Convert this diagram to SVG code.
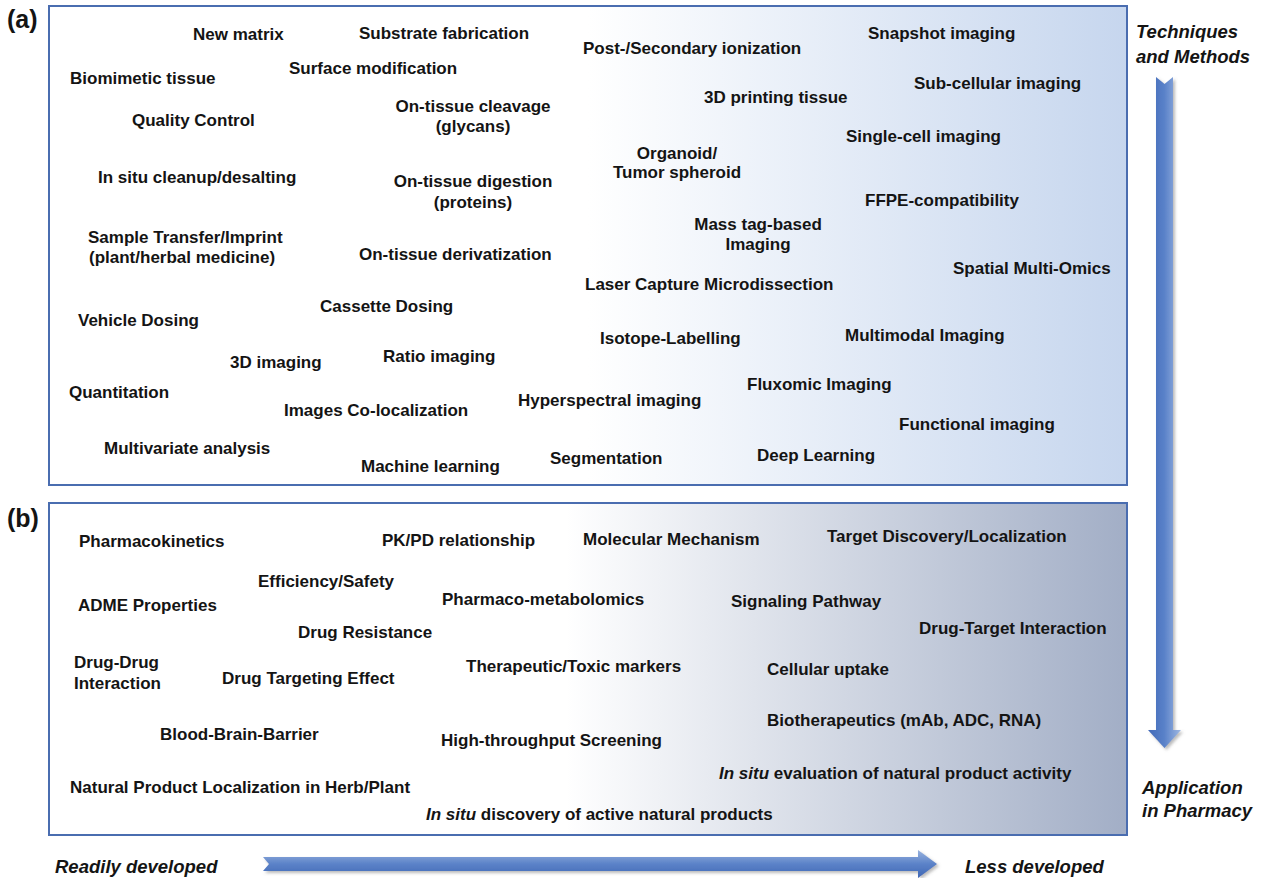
<svg xmlns="http://www.w3.org/2000/svg" width="1263" height="878" viewBox="0 0 1263 878">
  <style>
    .lbl { font-family: "Liberation Sans", Arial, sans-serif; font-weight: bold; font-size: 17px; fill: #141414; }
    .mid { text-anchor: middle; }
    .axis { font-family: "Liberation Sans", Arial, sans-serif; font-weight: bold; font-style: italic; font-size: 18.5px; fill: #141414; }
    .tag { font-family: "Liberation Sans", Arial, sans-serif; font-weight: bold; font-size: 25px; fill: #141414; }
    .panel { stroke: #4a6db0; stroke-width: 2; }
    .it { font-style: italic; }
  </style>
  <defs>
    <linearGradient id="gradA" x1="0" y1="0" x2="1" y2="0">
      <stop offset="0" stop-color="#ffffff"/>
      <stop offset="0.5" stop-color="#ffffff"/>
      <stop offset="1" stop-color="#c6d6ee"/>
    </linearGradient>
    <linearGradient id="gradB" x1="0" y1="0" x2="1" y2="0">
      <stop offset="0" stop-color="#ffffff"/>
      <stop offset="0.48" stop-color="#ffffff"/>
      <stop offset="1" stop-color="#a2aec6"/>
    </linearGradient>
    <linearGradient id="arrowV" x1="0" y1="0" x2="1" y2="0">
      <stop offset="0" stop-color="#4169b8"/>
      <stop offset="0.5" stop-color="#5a82c9"/>
      <stop offset="1" stop-color="#9fb8e2"/>
    </linearGradient>
    <linearGradient id="arrowH" x1="0" y1="0" x2="0" y2="1">
      <stop offset="0" stop-color="#9ab3df"/>
      <stop offset="0.5" stop-color="#5b82c8"/>
      <stop offset="1" stop-color="#3f67b5"/>
    </linearGradient>
    <filter id="shadow" x="-10%" y="-10%" width="130%" height="130%">
      <feDropShadow dx="2" dy="2" stdDeviation="1.5" flood-color="#777" flood-opacity="0.5"/>
    </filter>
  </defs>

  <!-- panels -->
  <rect id="panel-a" class="panel" x="49" y="6" width="1078" height="479" fill="url(#gradA)"/>
  <rect id="panel-b" class="panel" x="49" y="503" width="1078" height="332" fill="url(#gradB)"/>
  <text class="tag" x="7" y="28">(a)</text>
  <text class="tag" x="7" y="527">(b)</text>

  <!-- direction arrows -->
  <g id="connectors">
    <polygon filter="url(#shadow)" fill="url(#arrowV)" points="1156,77 1164.5,84 1173,77 1173,730 1181,730 1164.5,748 1148,730 1156,730"/>
    <polygon filter="url(#shadow)" fill="url(#arrowH)" points="263,857 918,857 918,850 937,864 918,878 918,871 263,871 269,864"/>
  </g>

  <!-- axis labels -->
  <g id="axis-top"><text class="axis" x="1136" y="38">Techniques</text><text class="axis" x="1136" y="63">and Methods</text></g>
  <g id="axis-bottom"><text class="axis" x="1142" y="794">Application</text><text class="axis" x="1142" y="817">in Pharmacy</text></g>
  <g id="axis-left"><text class="axis" x="55" y="873">Readily developed</text></g>
  <g id="axis-right"><text class="axis" x="965" y="873">Less developed</text></g>

  <!-- (a) techniques and methods -->
  <g id="a-new-matrix"><text class="lbl" x="193" y="40">New matrix</text></g>
  <g id="a-substrate"><text class="lbl" x="359" y="39">Substrate fabrication</text></g>
  <g id="a-post-ionization"><text class="lbl" x="583" y="54">Post-/Secondary ionization</text></g>
  <g id="a-snapshot"><text class="lbl" x="868" y="39">Snapshot imaging</text></g>
  <g id="a-biomimetic"><text class="lbl" x="70" y="84">Biomimetic tissue</text></g>
  <g id="a-surface"><text class="lbl" x="289" y="74">Surface modification</text></g>
  <g id="a-subcellular"><text class="lbl" x="914" y="89">Sub-cellular imaging</text></g>
  <g id="a-3d-printing"><text class="lbl" x="704" y="103">3D printing tissue</text></g>
  <g id="a-cleavage"><text class="lbl mid" x="473" y="112">On-tissue cleavage</text><text class="lbl mid" x="473" y="132">(glycans)</text></g>
  <g id="a-quality"><text class="lbl" x="132" y="126">Quality Control</text></g>
  <g id="a-single-cell"><text class="lbl" x="846" y="142">Single-cell imaging</text></g>
  <g id="a-organoid"><text class="lbl mid" x="677" y="159">Organoid/</text><text class="lbl mid" x="677" y="178">Tumor spheroid</text></g>
  <g id="a-cleanup"><text class="lbl" x="98" y="183">In situ cleanup/desalting</text></g>
  <g id="a-digestion"><text class="lbl mid" x="473" y="187">On-tissue digestion</text><text class="lbl mid" x="473" y="208">(proteins)</text></g>
  <g id="a-ffpe"><text class="lbl" x="865" y="206">FFPE-compatibility</text></g>
  <g id="a-mass-tag"><text class="lbl mid" x="758" y="230">Mass tag-based</text><text class="lbl mid" x="758" y="250">Imaging</text></g>
  <g id="a-transfer"><text class="lbl" x="88" y="243">Sample Transfer/Imprint</text><text class="lbl" x="89" y="263">(plant/herbal medicine)</text></g>
  <g id="a-derivatization"><text class="lbl" x="359" y="260">On-tissue derivatization</text></g>
  <g id="a-multi-omics"><text class="lbl" x="953" y="274">Spatial Multi-Omics</text></g>
  <g id="a-lcm"><text class="lbl" x="585" y="290">Laser Capture Microdissection</text></g>
  <g id="a-cassette"><text class="lbl" x="320" y="312">Cassette Dosing</text></g>
  <g id="a-vehicle"><text class="lbl" x="78" y="326">Vehicle Dosing</text></g>
  <g id="a-isotope"><text class="lbl" x="600" y="344">Isotope-Labelling</text></g>
  <g id="a-multimodal"><text class="lbl" x="845" y="341">Multimodal Imaging</text></g>
  <g id="a-3d-imaging"><text class="lbl" x="230" y="368">3D imaging</text></g>
  <g id="a-ratio"><text class="lbl" x="383" y="362">Ratio imaging</text></g>
  <g id="a-quantitation"><text class="lbl" x="69" y="398">Quantitation</text></g>
  <g id="a-fluxomic"><text class="lbl" x="747" y="390">Fluxomic Imaging</text></g>
  <g id="a-colocalization"><text class="lbl" x="284" y="416">Images Co-localization</text></g>
  <g id="a-hyperspectral"><text class="lbl" x="518" y="406">Hyperspectral imaging</text></g>
  <g id="a-functional"><text class="lbl" x="899" y="430">Functional imaging</text></g>
  <g id="a-multivariate"><text class="lbl" x="104" y="454">Multivariate analysis</text></g>
  <g id="a-machine-learning"><text class="lbl" x="361" y="472">Machine learning</text></g>
  <g id="a-segmentation"><text class="lbl" x="550" y="464">Segmentation</text></g>
  <g id="a-deep-learning"><text class="lbl" x="757" y="461">Deep Learning</text></g>

  <!-- (b) application in pharmacy -->
  <g id="b-pk"><text class="lbl" x="79" y="547">Pharmacokinetics</text></g>
  <g id="b-pkpd"><text class="lbl" x="382" y="546">PK/PD relationship</text></g>
  <g id="b-mechanism"><text class="lbl" x="583" y="545">Molecular Mechanism</text></g>
  <g id="b-target"><text class="lbl" x="827" y="542">Target Discovery/Localization</text></g>
  <g id="b-efficiency"><text class="lbl" x="258" y="587">Efficiency/Safety</text></g>
  <g id="b-adme"><text class="lbl" x="78" y="611">ADME Properties</text></g>
  <g id="b-metabolomics"><text class="lbl" x="442" y="605">Pharmaco-metabolomics</text></g>
  <g id="b-signaling"><text class="lbl" x="731" y="607">Signaling Pathway</text></g>
  <g id="b-dti"><text class="lbl" x="919" y="634">Drug-Target Interaction</text></g>
  <g id="b-resistance"><text class="lbl" x="298" y="638">Drug Resistance</text></g>
  <g id="b-ddi"><text class="lbl" x="74" y="668">Drug-Drug</text><text class="lbl" x="74" y="689">Interaction</text></g>
  <g id="b-targeting"><text class="lbl" x="222" y="684">Drug Targeting Effect</text></g>
  <g id="b-markers"><text class="lbl" x="466" y="672">Therapeutic/Toxic markers</text></g>
  <g id="b-uptake"><text class="lbl" x="767" y="675">Cellular uptake</text></g>
  <g id="b-biotherapeutics"><text class="lbl" x="767" y="726">Biotherapeutics (mAb, ADC, RNA)</text></g>
  <g id="b-bbb"><text class="lbl" x="160" y="740">Blood-Brain-Barrier</text></g>
  <g id="b-hts"><text class="lbl" x="441" y="746">High-throughput Screening</text></g>
  <g id="b-evaluation"><text class="lbl" x="719" y="779"><tspan class="it">In situ</tspan> evaluation of natural product activity</text></g>
  <g id="b-localization"><text class="lbl" x="70" y="793">Natural Product Localization in Herb/Plant</text></g>
  <g id="b-discovery"><text class="lbl" x="426" y="820"><tspan class="it">In situ</tspan> discovery of active natural products</text></g>
</svg>
